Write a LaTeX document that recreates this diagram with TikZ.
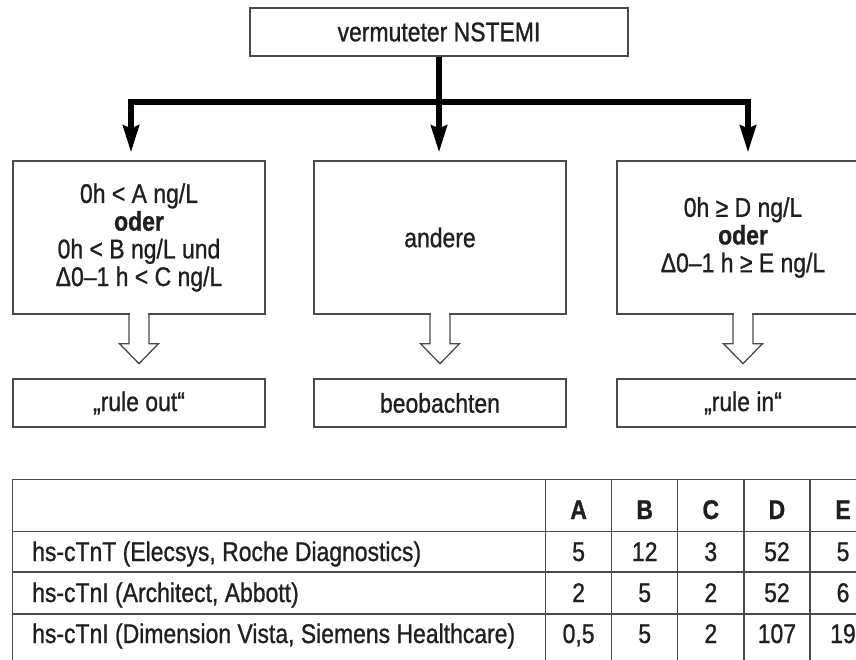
\documentclass[tikz,border=0pt]{standalone}
\usepackage{fontspec}
\setmainfont{Liberation Sans}[FakeStretch=0.85,FakeBold=0.9]
\usetikzlibrary{arrows.meta,calc}
\definecolor{framegray}{HTML}{4A4A4A}
\definecolor{inkblack}{HTML}{1F1F1F}
\begin{document}
\begin{tikzpicture}[x=1pt,y=-1pt,
  font=\fontsize{27}{27.7}\selectfont,
  boxframe/.style={draw=framegray, line width=1.3pt, text=inkblack,
    align=center, inner sep=0pt, minimum width=252pt},
  critbox/.style={boxframe, minimum height=153pt},
  resultbox/.style={boxframe, minimum height=48pt},
  trunk/.style={draw=black, line width=5.3pt, line join=miter},
  drop/.style={trunk, -{Stealth[length=27pt,width=16pt,inset=3pt]}, shorten >=8pt},
  hollow/.style={draw=framegray, line width=1.3pt, line join=miter},
  gridline/.style={draw=framegray, line width=1.2pt},
  cell/.style={text=inkblack, inner sep=0pt, anchor=base},
  headcell/.style={cell, font=\fontsize{27}{27.7}\selectfont\bfseries}]

\useasboundingbox (0,0) rectangle (856,660);
\clip (0,0) rectangle (856,660);

% ---- flow chart ----
\node[boxframe, minimum width=378pt, minimum height=48pt] (start) at (439,32) {vermuteter NSTEMI};

\node[critbox] (crit-out) at (139,237.5) {0h < A ng/L\\\textbf{oder}\\0h < B ng/L und\\Δ0–1 h < C ng/L};
\node[critbox] (other)    at (440,237.5) {andere};
\node[critbox] (crit-in)  at (743,237.5) {0h ≥ D ng/L\\\textbf{oder}\\Δ0–1 h ≥ E ng/L};

\node[resultbox] (res-out) at (139,403) {„rule out“};
\node[resultbox] (res-obs) at (440,403) {beobachten};
\node[resultbox] (res-in)  at (743,403) {„rule in“};

% branching connector
\coordinate (split-l) at (131,102);
\coordinate (split-r) at (748,102);
\draw[trunk] (start.south) -- (start.south |- split-l);
\draw[drop] (start.south |- split-l) -- (split-l) -- (split-l |- crit-out.north);
\draw[drop] (start.south |- split-r) -- (split-r) -- (split-r |- crit-in.north);
\draw[drop] (start.south) -- (start.south |- other.north);

% hollow arrows from the criteria to the results
\foreach \b in {crit-out, other, crit-in} {
  \fill[white] ($(\b.south)+(-9.3,-2)$) rectangle ($(\b.south)+(9.3,2)$);
  \draw[hollow] ($(\b.south)+(-10,0)$) -- ++(0,29) -- ++(-9.5,0)
    -- ($(\b.south)+(0,49)$) -- ($(\b.south)+(19.5,29)$) -- ++(-9.5,0) -- ++(0,-29);
}

% ---- table of cut-off values ----
\foreach \y in {479.3, 531.7, 572, 614}
  \draw[gridline] (12.7,\y) -- (880,\y);
\foreach \x in {12.7, 545.5, 611.7, 677.7, 744, 810}
  \draw[gridline] (\x,479.3) -- (\x,680);

\foreach \lab [count=\i from 0] in {A,B,C,D,E}
  \node[headcell] (head-\lab) at (578.6+66.1*\i,519) {\lab};

\node[cell, anchor=base west] (dev-1) at (32,561) {hs-cTnT (Elecsys, Roche Diagnostics)};
\node[cell, anchor=base west] (dev-2) at (32,602) {hs-cTnI (Architect, Abbott)};
\node[cell, anchor=base west] (dev-3) at (32,643) {hs-cTnI (Dimension Vista, Siemens Healthcare)};

\foreach \v [count=\i from 0] in {5,12,3,52,5}
  \node[cell] at (578.6+66.1*\i,561) {\v};
\foreach \v [count=\i from 0] in {2,5,2,52,6}
  \node[cell] at (578.6+66.1*\i,602) {\v};
\node[cell] at (578.6,643) {0,5};
\foreach \v [count=\i from 1] in {5,2,107,19}
  \node[cell] at (578.6+66.1*\i,643) {\v};
\end{tikzpicture}
\end{document}
